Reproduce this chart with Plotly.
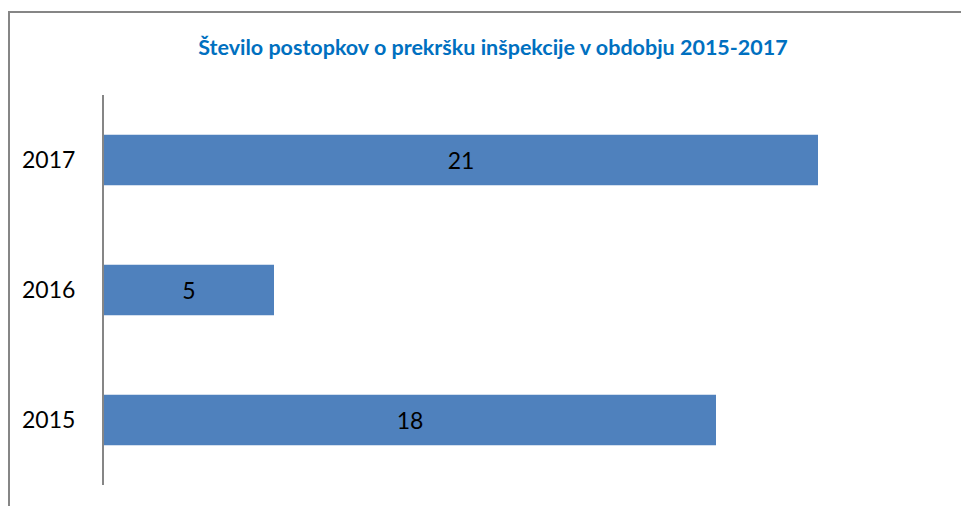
import plotly.graph_objects as go

# Data
years = ['2015', '2016', '2017']
cases = [18, 5, 21]

title_text = 'Število postopkov o prekršku inšpekcije v obdobju 2015-2017'

W, H = 969, 506
offx, offy = 7, 8  # page body margin shifts the figure right/down
ml, mt = 103 - offx, 95 - offy
mr, mb = W - (953 - offx), H - (485 - offy)
pw, ph = W - ml - mr, H - mt - mb

fig = go.Figure()
fig.add_trace(go.Bar(
    y=years, x=cases, orientation='h',
    marker=dict(color='#4F81BD', line=dict(width=0)),
    text=[str(v) for v in cases], textposition='inside',
    insidetextanchor='middle',
    textfont=dict(family='Lato', size=23, color='black'),
    hoverinfo='skip',
))

# outer chart border (runs off the right and bottom of the picture)
fig.add_shape(type='rect', xref='paper', yref='paper',
              x0=(1 - ml) / pw, x1=(W + 30 - ml) / pw,
              y0=-(mb + 30) / ph, y1=(H - (12 - offy) - mb) / ph,
              line=dict(color='#868686', width=2))

fig.update_layout(
    width=W, height=H,
    margin=dict(l=ml, r=mr, t=mt, b=mb),
    paper_bgcolor='white', plot_bgcolor='white',
    bargap=0.61,
    showlegend=False,
    title=dict(text='<b>' + title_text + '</b>', xref='container', yref='container',
               x=(492 - offx) / W, xanchor='center', y=1 - (47 - offy) / H, yanchor='middle',
               font=dict(family='Lato', size=21.5, color='#0070C0')),
    xaxis=dict(range=[0, 25], visible=False, showgrid=False, zeroline=False),
    yaxis=dict(showline=True, linecolor='#868686', linewidth=2,
               ticks='', ticklen=0, showgrid=False,
               tickfont=dict(family='Lato', size=23, color='black'),
               ticklabelstandoff=22),
)

fig.write_html('out.html')
